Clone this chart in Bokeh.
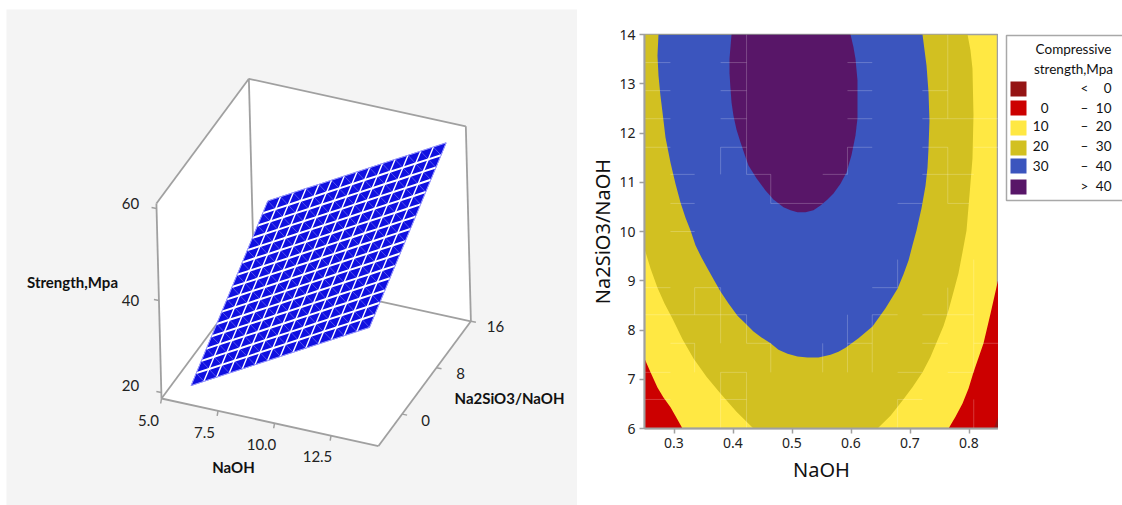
from bokeh.plotting import figure
from bokeh.models import Range1d, FixedTicker
from bokeh.layouts import row
from bokeh.core.properties import value
from bokeh.embed import file_html
from bokeh.resources import INLINE

# ---------- 3D surface data ----------
naoh_nodes = [6.00,6.57,7.14,7.71,8.29,8.86,9.43,10.00,10.57,11.14,11.71,12.29,12.86,13.43,14.00]
ratio_nodes = [-3.80,-2.58,-1.36,-0.14,1.08,2.30,3.52,4.74,5.96,7.18,8.40,9.62,10.84,12.06,13.28,14.50]
strength = [
 [20.46,21.98,23.49,25.01,26.53,28.05,29.56,31.08,32.60,34.11,35.63,37.15,38.66,40.18,41.70],
 [21.60,23.12,24.63,26.15,27.67,29.19,30.70,32.22,33.74,35.25,36.77,38.29,39.80,41.32,42.84],
 [22.73,24.25,25.76,27.28,28.80,30.32,31.83,33.35,34.87,36.38,37.90,39.42,40.93,42.45,43.97],
 [23.87,25.39,26.90,28.42,29.94,31.46,32.97,34.49,36.01,37.52,39.04,40.56,42.07,43.59,45.11],
 [25.00,26.52,28.03,29.55,31.07,32.59,34.10,35.62,37.14,38.65,40.17,41.69,43.20,44.72,46.24],
 [26.14,27.66,29.17,30.69,32.21,33.73,35.24,36.76,38.28,39.79,41.31,42.83,44.34,45.86,47.38],
 [27.28,28.80,30.31,31.83,33.35,34.87,36.38,37.90,39.42,40.93,42.45,43.97,45.48,47.00,48.52],
 [28.41,29.93,31.44,32.96,34.48,36.00,37.51,39.03,40.55,42.06,43.58,45.10,46.61,48.13,49.65],
 [29.55,31.07,32.58,34.10,35.62,37.14,38.65,40.17,41.69,43.20,44.72,46.24,47.75,49.27,50.79],
 [30.68,32.20,33.71,35.23,36.75,38.27,39.78,41.30,42.82,44.33,45.85,47.37,48.88,50.40,51.92],
 [31.82,33.34,34.85,36.37,37.89,39.41,40.92,42.44,43.96,45.47,46.99,48.51,50.02,51.54,53.06],
 [32.96,34.48,35.99,37.51,39.03,40.55,42.06,43.58,45.10,46.61,48.13,49.65,51.16,52.68,54.20],
 [34.09,35.61,37.12,38.64,40.16,41.68,43.19,44.71,46.23,47.74,49.26,50.78,52.29,53.81,55.33],
 [35.23,36.75,38.26,39.78,41.30,42.82,44.33,45.85,47.37,48.88,50.40,51.92,53.43,54.95,56.47],
 [36.36,37.88,39.39,40.91,42.43,43.95,45.46,46.98,48.50,50.01,51.53,53.05,54.56,56.08,57.60],
 [37.50,39.02,40.53,42.05,43.57,45.09,46.60,48.12,49.64,51.15,52.67,54.19,55.70,57.22,58.74],
]
naoh_ticks = [5.0, 7.5, 10.0, 12.5]
ratio_ticks = [0, 8, 16]
strength_ticks = [20, 40, 60]

# ---------- contour band boundaries (NaOH, Na2SiO3/NaOH) ----------
x_ticks = [0.3, 0.4, 0.5, 0.6, 0.7, 0.8]
y_ticks = [6, 7, 8, 9, 10, 11, 12, 13, 14]
band20_x = [.25,.25,.2602,.272,.2839,.2975,.3144,.3331,.3551,.3788,.4059,.4347,.6449,.667,.6873,.7042,.7212,.7347,.7466,.7568,.7653,.7737,.7822,.789,.7958,.8008,.8059,.8076,.8059,.8025,.7975]
band20_y = [14,9.65,9.25,8.86,8.54,8.23,7.81,7.42,7.05,6.71,6.34,6,6,6.26,6.57,6.84,7.14,7.45,7.79,8.08,8.40,8.77,9.15,9.58,10.02,10.73,11.48,12.36,13.31,13.68,14]
band30_x = [.2737,.272,.2737,.277,.2805,.2856,.294,.3025,.311,.3195,.328,.3364,.3466,.3568,.367,.3788,.3924,.4076,.4212,.4347,.4483,.4636,.4771,.4924,.5093,.5263,.5449,.5653,.5788,.5907,.6127,.6364,.6585,.6788,.689,.6975,.7042,.711,.7195,.7263,.7297,.7314,.733,.7314,.728,.7212]
band30_y = [14,13.57,13.17,12.76,12.42,11.91,11.40,10.97,10.59,10.28,10.02,9.72,9.47,9.25,9.03,8.78,8.54,8.29,8.13,7.97,7.85,7.73,7.60,7.52,7.46,7.44,7.44,7.50,7.56,7.64,7.83,8.07,8.44,8.84,9.13,9.41,9.72,10.02,10.47,10.93,11.30,11.69,12.25,12.82,13.37,14]
band40_x = [.3975,.3941,.3941,.3958,.3975,.4008,.4059,.4127,.4195,.4263,.4398,.4551,.4686,.4856,.4975,.5093,.5229,.5364,.5483,.5602,.5703,.5822,.5924,.6008,.6076,.611,.611,.611,.6076,.6042,.5992]
band40_y = [14,13.51,13.21,12.90,12.62,12.35,12.07,11.81,11.57,11.34,11.08,10.83,10.65,10.49,10.43,10.39,10.39,10.43,10.53,10.65,10.77,10.97,11.20,11.55,11.95,12.30,12.62,13.07,13.51,13.74,14]
band0_left_x = [.25,.2602,.272,.2822,.2941,.3042,.3144,.25]
band0_left_y = [7.42,7.14,6.83,6.63,6.43,6.22,6,6]
band0_right_x = [.7653,.7771,.789,.7992,.8076,.8246,.8364,.85,.85]
band0_right_y = [6,6.24,6.51,6.81,7.14,7.73,8.33,9.05,6]
below0_x = [.842,.85,.85]
below0_y = [6,6.26,6]

# faint seams visible across the contour image: (y, x0, x1) and (x, y0, y1)
seams_h = [
 (13.43,.25,.294),(13.43,.379,.423),(13.43,.594,.636),
 (12.86,.25,.294),(12.86,.379,.423),(12.86,.594,.636),(12.86,.721,.764),
 (12.29,.25,.294),(12.29,.379,.423),(12.29,.594,.636),(12.29,.721,.85),
 (11.71,.25,.294),(11.71,.379,.423),(11.71,.594,.636),(11.71,.721,.764),(11.71,.808,.85),
 (11.16,.294,.335),(11.16,.423,.464),(11.16,.552,.594),(11.16,.721,.808),
 (10.57,.294,.335),(10.57,.464,.552),(10.57,.679,.721),(10.57,.764,.8),
 (10.0,.294,.335),(8.86,.25,.294),(8.86,.335,.379),(8.86,.636,.679),
 (8.31,.25,.423),(8.31,.636,.679),(8.31,.721,.808),
 (7.73,.294,.335),(7.73,.423,.464),(7.73,.594,.636),(7.73,.721,.764),(7.73,.808,.85),
 (7.14,.25,.294),(7.14,.379,.423),(7.14,.679,.721),(7.14,.764,.808),
 (6.59,.25,.294),(6.59,.379,.423),(6.59,.679,.721),
]
seams_v = [
 (.379,11.16,11.71),(.423,11.16,14),(.464,10.57,11.16),(.594,11.16,11.71),(.764,12.29,14),(.764,10.57,11.71),
 (.335,8.31,8.86),(.379,7.73,8.86),(.423,7.73,8.31),(.335,7.14,7.73),(.464,7.14,7.73),(.552,7.14,7.73),
 (.379,6,7.14),(.423,6,7.14),(.679,8.86,9.43),(.636,7.14,8.31),(.594,7.14,8.31),(.764,8.31,8.86),
 (.808,7.14,9.43),(.679,6,6.59),(.808,6,6.59),
]

# ---------- legend ----------
legend_title = ["Compressive", "strength,Mpa"]
legend_low = ["", "0", "10", "20", "30", ""]
legend_sep = ["<", "–", "–", "–", "–", ">"]
legend_high = ["0", "10", "20", "30", "40", "40"]
legend_colors = ["#941414", "#CC0000", "#FFE843", "#D2C021", "#3B55BE", "#581668"]

NAOH_LO, NAOH_HI = 5.0, 14.6
RATIO_LO, RATIO_HI = -5.5, 16.0
Z_LO, Z_HI = 18.7, 61.1
GRAY = "#a0a0a0"
LATO = value("Lato")


def proj(n, r, z):
    """Oblique projection of a (NaOH, ratio, strength) point on the left panel."""
    dn, dr, dz = n - NAOH_LO, r - RATIO_LO, z - Z_LO
    return (161 + 22.6 * dn + 4.3 * dr - 0.12 * dz,
            398 + 4.95 * dn - 5.8 * dr - 4.6 * dz)


# ---------- left panel ----------
left = figure(width=577, height=505, x_range=Range1d(0, 577), y_range=Range1d(505, 0),
              output_backend="svg", toolbar_location=None, min_border=0, frame_align=False,
              x_axis_location=None, y_axis_location=None, outline_line_color=None,
              background_fill_color="white", border_fill_color="white")
left.grid.visible = False
left.quad(left=[6], right=[577], top=[9], bottom=[505], fill_color="#f4f4f4", line_color=None)

A = proj(NAOH_LO, RATIO_LO, Z_LO)
B = proj(NAOH_HI, RATIO_LO, Z_LO)
C = proj(NAOH_HI, RATIO_HI, Z_LO)
F = proj(NAOH_LO, RATIO_HI, Z_LO)
At = proj(NAOH_LO, RATIO_LO, Z_HI)
Ft = proj(NAOH_LO, RATIO_HI, Z_HI)
Ct = proj(NAOH_HI, RATIO_HI, Z_HI)
hexagon = [A, At, Ft, Ct, C, B]
left.patch([q[0] for q in hexagon], [q[1] for q in hexagon], fill_color="white", line_color=None)
edges = [(A, At), (At, Ft), (Ft, Ct), (Ct, C), (C, B), (B, A), (A, F), (F, C), (F, Ft)]
left.multi_line([[a[0], b[0]] for a, b in edges], [[a[1], b[1]] for a, b in edges],
                line_color=GRAY, line_width=1.8)

tx, ty = [], []
for t in naoh_ticks:
    a = proj(t, RATIO_LO, Z_LO)
    tx.append([a[0], a[0] - 0.8]); ty.append([a[1], a[1] + 5])
for t in ratio_ticks:
    a = proj(NAOH_HI, t, Z_LO)
    tx.append([a[0], a[0] + 5]); ty.append([a[1], a[1] + 1])
for t in strength_ticks:
    a = proj(NAOH_LO, RATIO_LO, t)
    tx.append([a[0], a[0] - 5]); ty.append([a[1], a[1] - 1])
left.multi_line(tx, ty, line_color=GRAY, line_width=1.5)

nodes = [[proj(n, r, strength[j][i]) for i, n in enumerate(naoh_nodes)] for j, r in enumerate(ratio_nodes)]
qx, qy, dx, dy = [], [], [], []
for j in range(len(ratio_nodes) - 1):
    for i in range(len(naoh_nodes) - 1):
        c = [nodes[j][i], nodes[j][i + 1], nodes[j + 1][i + 1], nodes[j + 1][i]]
        qx.append([q[0] for q in c]); qy.append([q[1] for q in c])
        dx.append([c[1][0], c[3][0]]); dy.append([c[1][1], c[3][1]])
left.patches(qx, qy, fill_color="#1010E0", line_color="#1010E0", line_width=0.5)
left.multi_line(dx, dy, line_color="#6A6AF5", line_width=0.7)
# mesh lines: rows are drawn heavier than columns
left.multi_line([[q[0] for q in line] for line in nodes[1:-1]],
                [[q[1] for q in line] for line in nodes[1:-1]],
                line_color="white", line_width=2)
cols = [[nodes[j][i] for j in range(len(nodes))] for i in range(1, len(naoh_nodes) - 1)]
left.multi_line([[q[0] for q in line] for line in cols],
                [[q[1] for q in line] for line in cols],
                line_color="white", line_width=1.4)
rim = nodes[0] + [ln[-1] for ln in nodes] + nodes[-1][::-1] + [ln[0] for ln in nodes][::-1]
left.line([q[0] for q in rim], [q[1] for q in rim], line_color="#9a9aff", line_width=1)

tick_text = dict(text_font=LATO, text_font_size="15px", text_color="#222222",
                 text_align="center", text_baseline="middle")
left.text([148, 204, 261, 317], [420, 432, 444, 456], text=["5.0", "7.5", "10.0", "12.5"], **tick_text)
left.text([130, 130, 130], [385, 300, 203], text=["20", "40", "60"], **tick_text)
left.text([425, 460, 495], [420, 373, 326], text=["0", "8", "16"], **tick_text)
label_text = dict(text_font=LATO, text_font_size="15px", text_font_style="bold",
                  text_color="#111111", text_align="center", text_baseline="middle")
left.text([72, 233, 509], [281, 466, 397], text=["Strength,Mpa", "NaOH", "Na2SiO3/NaOH"], **label_text)

# ---------- contour panel ----------
mid = figure(width=421, height=505, x_range=Range1d(0.25, 0.85), y_range=Range1d(6, 14),
             output_backend="svg", toolbar_location=None, frame_align=False,
             min_border_left=67, min_border_right=0, min_border_top=34, min_border_bottom=77,
             background_fill_color=legend_colors[2], border_fill_color="white",
             outline_line_color=GRAY, outline_line_width=1.5,
             x_axis_label="NaOH", y_axis_label="Na2SiO3/NaOH")
mid.grid.visible = False
mid.patch(band20_x, band20_y, fill_color=legend_colors[3], line_color=None)
mid.patch(band30_x, band30_y, fill_color=legend_colors[4], line_color=None)
mid.patch(band40_x, band40_y, fill_color=legend_colors[5], line_color=None)
mid.patch(band0_left_x, band0_left_y, fill_color=legend_colors[1], line_color=None)
mid.patch(band0_right_x, band0_right_y, fill_color=legend_colors[1], line_color=None)
mid.patch(below0_x, below0_y, fill_color=legend_colors[0], line_color=None)
mid.multi_line([[a, b] for _, a, b in seams_h] + [[x, x] for x, _, _ in seams_v],
               [[y, y] for y, _, _ in seams_h] + [[a, b] for _, a, b in seams_v],
               line_color="white", line_alpha=0.22, line_width=1)
mid.xaxis.ticker = FixedTicker(ticks=x_ticks)
mid.yaxis.ticker = FixedTicker(ticks=y_ticks)
for ax in (mid.xaxis[0], mid.yaxis[0]):
    ax.axis_line_color = GRAY
    ax.axis_line_width = 2
    ax.major_tick_line_color = GRAY
    ax.major_tick_line_width = 1.5
    ax.major_tick_out = 5
    ax.major_tick_in = 0
    ax.minor_tick_line_color = None
    ax.major_label_text_font = "Noto Sans"
    ax.major_label_text_font_size = "14px"
    ax.major_label_text_color = "#222222"
    ax.axis_label_text_font = "Noto Sans"
    ax.axis_label_text_font_size = "20px"
    ax.axis_label_text_font_style = "normal"
    ax.axis_label_text_color = "#111111"
mid.xaxis[0].major_label_standoff = 4
mid.yaxis[0].major_label_standoff = 4
mid.xaxis[0].axis_label_standoff = 5
mid.yaxis[0].axis_label_standoff = 0
mid.yaxis[0].major_label_orientation = "horizontal"

# ---------- legend panel ----------
leg = figure(width=124, height=505, x_range=Range1d(998, 1122), y_range=Range1d(505, 0),
             output_backend="svg", toolbar_location=None, min_border=0, frame_align=False,
             x_axis_location=None, y_axis_location=None, outline_line_color=None,
             background_fill_color="white", border_fill_color="white")
leg.grid.visible = False
leg.line([1122, 1006, 1006, 1122], [35, 35, 200, 200], line_color="#a8a8a8", line_width=1.5)
row_tops = [81, 100, 120, 140, 158, 179]
row_mids = [87, 107, 125, 145, 165, 185]
leg.quad(left=[1010] * 6, right=[1026] * 6, top=row_tops, bottom=[t + 15 for t in row_tops],
         fill_color=legend_colors, line_color=None)
base = dict(text_font=LATO, text_font_size="13.5px", text_color="#111111", text_baseline="middle")
leg.text([1073, 1073], [48, 68], text=legend_title, text_align="center", **base)
leg.text([1048] * 6, row_mids, text=legend_low, text_align="right", **base)
leg.text([1084] * 6, row_mids, text=legend_sep, text_align="center", **base)
leg.text([1111] * 6, row_mids, text=legend_high, text_align="right", **base)

page = row(left, mid, leg, spacing=0)
open("out.html", "w").write(file_html(page, INLINE))
